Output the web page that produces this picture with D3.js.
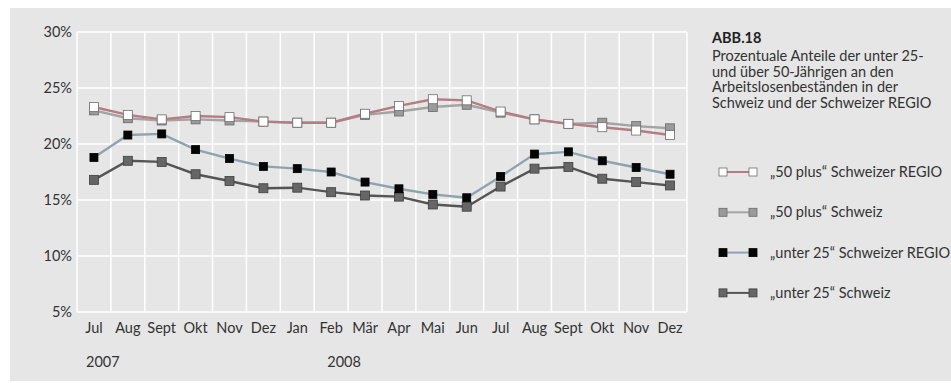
<!DOCTYPE html>
<html>
<head>
<meta charset="utf-8">
<script src="https://cdn.jsdelivr.net/npm/d3@7"></script>
<style>
  html, body { margin: 0; padding: 0; background: #fff; }
  svg { display: block; font-family: Lato, "Open Sans", sans-serif; }
</style>
</head>
<body>
<svg id="chart" width="951" height="383"></svg>
<script>
// Monthly categories, July 2007 to December 2008
const months = ["Jul","Aug","Sept","Okt","Nov","Dez","Jan","Feb","Mär","Apr","Mai","Jun","Jul","Aug","Sept","Okt","Nov","Dez"];
const years = [{ label: "2007", at: 0, dx: 9 }, { label: "2008", at: 7, dx: 13 }];
const yTicks = [5, 10, 15, 20, 25, 30];

// Shares of unemployed (percent)
const plus50Regio   = [23.3, 22.6, 22.2, 22.5, 22.4, 22.0, 21.9, 21.9, 22.7, 23.4, 24.0, 23.9, 22.9, 22.2, 21.8, 21.5, 21.2, 20.8];
const plus50Schweiz = [23.0, 22.3, 22.1, 22.2, 22.1, 22.0, 21.9, 21.9, 22.6, 22.9, 23.3, 23.5, 22.8, 22.2, 21.8, 21.9, 21.6, 21.4];
const unter25Regio  = [18.8, 20.8, 20.9, 19.5, 18.7, 18.0, 17.8, 17.5, 16.6, 16.0, 15.5, 15.2, 17.1, 19.1, 19.3, 18.5, 17.9, 17.3];
const unter25Schweiz= [16.8, 18.5, 18.4, 17.3, 16.7, 16.05, 16.1, 15.7, 15.4, 15.3, 14.6, 14.4, 16.2, 17.8, 17.95, 16.9, 16.6, 16.3];

const titleLines = ["Prozentuale Anteile der unter 25-", "und über 50-Jährigen an den", "Arbeitslosenbeständen in der", "Schweiz und der Schweizer REGIO"];

const series = [
  { name: "„50 plus“ Schweizer REGIO", values: plus50Regio,   line: "#b57c82", fill: "#ffffff", stroke: "#6e6e6e", size: 9 },
  { name: "„50 plus“ Schweiz",         values: plus50Schweiz, line: "#a4a4a4", fill: "#9a9a9a", stroke: "#6a6a6a", size: 9 },
  { name: "„unter 25“ Schweizer REGIO",values: unter25Regio,  line: "#8ea3b0", fill: "#050505", stroke: "#000000", size: 8 },
  { name: "„unter 25“ Schweiz",        values: unter25Schweiz,line: "#555555", fill: "#666666", stroke: "#3f3f3f", size: 9 }
];

const FS = 14.5;
const svg = d3.select("#chart");

// Grey panel behind everything
svg.append("rect").attr("x", 10).attr("y", 8).attr("width", 941).attr("height", 373).attr("fill", "#e6e6e6");

const plot = { left: 77, right: 687, top: 32, bottom: 312 };

const x = d3.scaleBand().domain(d3.range(months.length)).range([plot.left, plot.right]);
const y = d3.scaleLinear().domain([5, 30]).range([plot.bottom, plot.top]);

const grid = svg.append("g");
// vertical grid lines at band edges
const edges = d3.range(months.length).map(i => x(i)).concat([plot.right]);
grid.selectAll("line.v").data(edges).join("line")
  .attr("x1", d => d).attr("x2", d => d)
  .attr("y1", plot.top).attr("y2", plot.bottom)
  .attr("stroke", "#ffffff").attr("stroke-width", 1.5);
// horizontal grid lines at ticks
grid.selectAll("line.h").data(yTicks).join("line")
  .attr("x1", plot.left).attr("x2", plot.right)
  .attr("y1", d => y(d)).attr("y2", d => y(d))
  .attr("stroke", "#ffffff").attr("stroke-width", 1.5);

// Y axis labels
const yAxis = svg.append("g").attr("transform", `translate(${plot.left - 5},0)`)
  .call(d3.axisLeft(y).tickValues(yTicks).tickSize(0).tickPadding(0).tickFormat(d => d + "%"));
yAxis.select(".domain").remove();
yAxis.selectAll("text").attr("font-size", FS).attr("fill", "#333").attr("font-family", "Lato, sans-serif");

// X axis labels
const xAxis = svg.append("g").attr("transform", `translate(0,${plot.bottom + 11})`)
  .call(d3.axisBottom(x).tickSize(0).tickPadding(0).tickFormat(i => months[i]));
xAxis.select(".domain").remove();
xAxis.selectAll("text").attr("font-size", FS).attr("fill", "#333").attr("font-family", "Lato, sans-serif");

// Year labels
svg.selectAll("text.year").data(years).join("text")
  .attr("class", "year")
  .attr("x", d => x(d.at) + d.dx)
  .attr("y", 367)
  .attr("font-size", FS).attr("fill", "#333")
  .text(d => d.label);

// Lines and markers (Schweiz drawn beneath REGIO)
const order = [1, 0, 3, 2];
const lineGen = d3.line().x((d, i) => x(i) + x.bandwidth() / 2).y(d => y(d));

order.forEach(k => {
  const s = series[k];
  svg.append("path").datum(s.values)
    .attr("d", lineGen).attr("fill", "none")
    .attr("stroke", s.line).attr("stroke-width", 2.4);
});
order.forEach(k => {
  const s = series[k];
  svg.append("g").selectAll("rect").data(s.values).join("rect")
    .attr("x", (d, i) => x(i) + x.bandwidth() / 2 - s.size / 2)
    .attr("y", d => y(d) - s.size / 2)
    .attr("width", s.size).attr("height", s.size)
    .attr("fill", s.fill).attr("stroke", s.stroke).attr("stroke-width", 0.8);
});

// Title block
const tx = 712;
svg.append("text").attr("x", tx).attr("y", 43).attr("font-size", FS).attr("font-weight", "bold").attr("fill", "#222").text("ABB.18");
svg.selectAll("text.title").data(titleLines).join("text")
  .attr("class", "title")
  .attr("x", tx).attr("y", (d, i) => 61 + i * 15.5)
  .attr("font-size", FS).attr("fill", "#333")
  .text(d => d);

// Legend
const legend = svg.append("g").selectAll("g").data(series).join("g")
  .attr("transform", (d, i) => `translate(0,${172 + i * 40.3})`);
legend.append("line").attr("x1", 723).attr("x2", 753).attr("y1", 0).attr("y2", 0)
  .attr("stroke", d => d.line).attr("stroke-width", 2);
legend.selectAll("rect").data(d => [723, 753].map(cx => ({ cx, s: d }))).join("rect")
  .attr("x", d => d.cx - 4).attr("y", -4).attr("width", 8).attr("height", 8)
  .attr("fill", d => d.s.fill).attr("stroke", d => d.s.stroke).attr("stroke-width", 0.8);
legend.append("text").attr("x", 770).attr("y", 5)
  .attr("font-size", FS).attr("fill", "#333")
  .text(d => d.name);
</script>
</body>
</html>
